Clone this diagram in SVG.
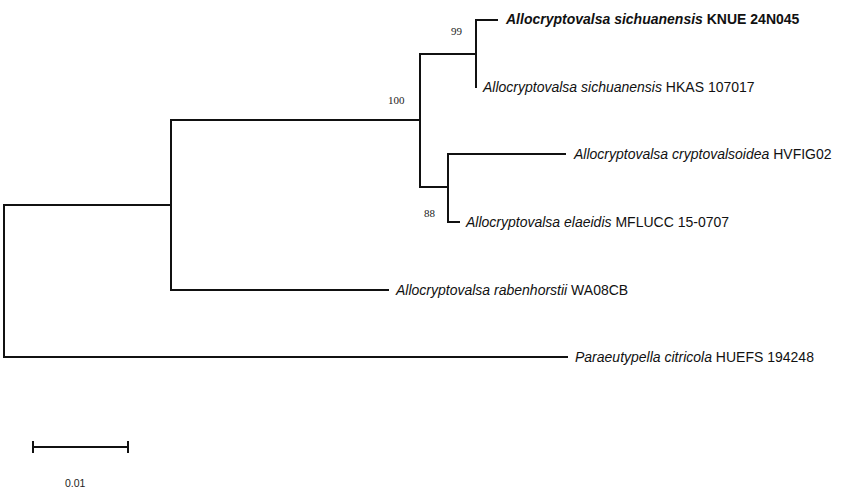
<svg xmlns="http://www.w3.org/2000/svg" width="844" height="495" viewBox="0 0 844 495">
<style>
.br{fill:none;stroke:#111;stroke-width:2;stroke-linecap:square}
.lb{font-family:"Liberation Sans",Arial,sans-serif;font-size:14px;fill:#111}
.bs{font-family:"Liberation Serif","Times New Roman",serif;font-size:11px;fill:#222}
.sc{font-family:"Liberation Sans",Arial,sans-serif;font-size:10.5px;fill:#222}
</style>
<rect width="844" height="495" fill="#fff"/>
<g id="connectors">
<path class="br" d="M4,205 V357 M4,205 H171 M4,357 H567"/>
<path class="br" d="M171,120 V290 M171,120 H420 M171,290 H388"/>
<path class="br" d="M420,54 V187 M420,54 H476 M420,187 H448"/>
<path class="br" d="M476,20 V87 M476,20 H497"/>
<path class="br" d="M448,154 V222 M448,154 H565 M448,222 H459"/>
</g>
<g id="n-knue"><text class="lb" x="506" y="24" font-weight="bold"><tspan font-style="italic">Allocryptovalsa sichuanensis</tspan> KNUE 24N045</text></g>
<g id="n-hkas"><text class="lb" x="483" y="92"><tspan font-style="italic">Allocryptovalsa sichuanensis</tspan> HKAS 107017</text></g>
<g id="n-hvfig"><text class="lb" x="574" y="159"><tspan font-style="italic">Allocryptovalsa cryptovalsoidea</tspan> HVFIG02</text></g>
<g id="n-mfl"><text class="lb" x="466" y="227"><tspan font-style="italic">Allocryptovalsa elaeidis</tspan> MFLUCC 15-0707</text></g>
<g id="n-wa"><text class="lb" x="396" y="295"><tspan font-style="italic">Allocryptovalsa rabenhorstii</tspan> WA08CB</text></g>
<g id="n-huefs"><text class="lb" x="575" y="362"><tspan font-style="italic">Paraeutypella citricola</tspan> HUEFS 194248</text></g>
<g id="support">
<text class="bs" x="451" y="35">99</text>
<text class="bs" x="388" y="104">100</text>
<text class="bs" x="424" y="217">88</text>
</g>
<g id="scale">
<path class="br" d="M33,447 H128 M33,441 V453 M128,441 V453" style="stroke-linecap:butt"/>
<text class="sc" x="65" y="487">0.01</text>
</g>
</svg>
